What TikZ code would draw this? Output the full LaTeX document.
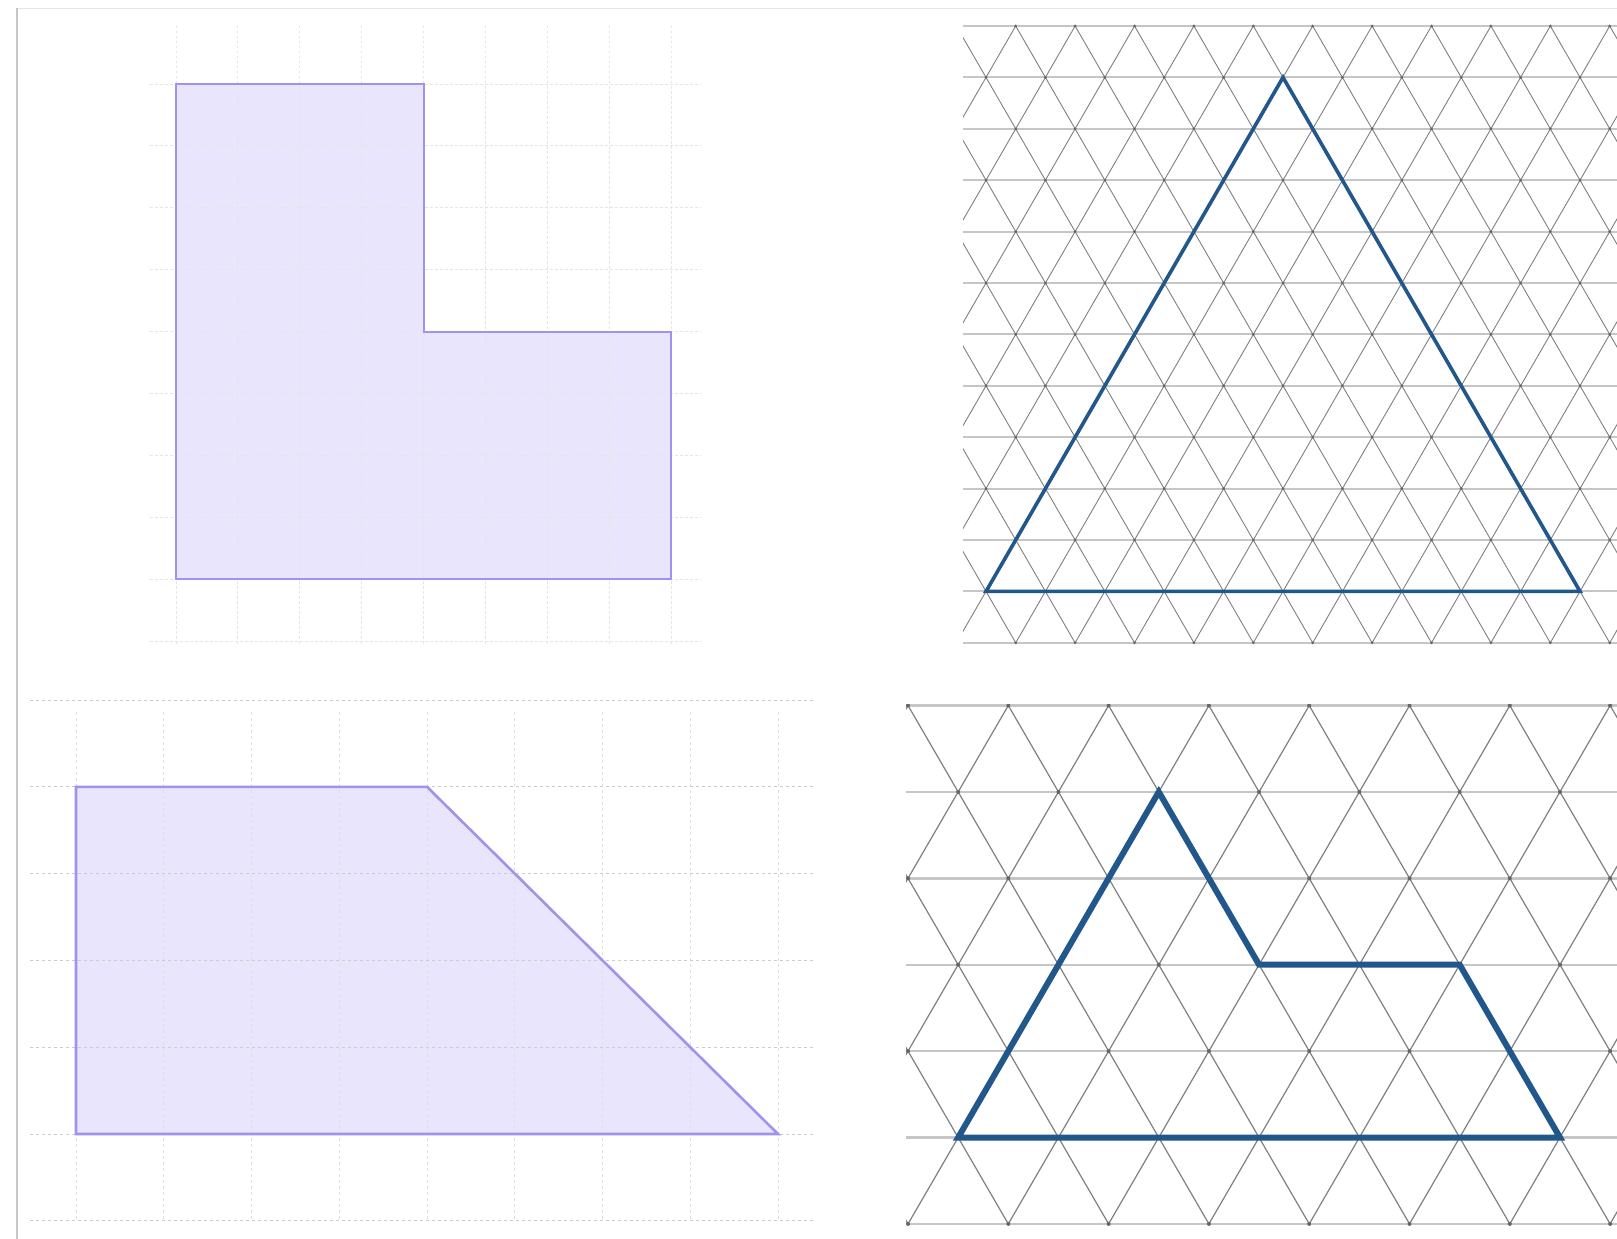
\documentclass[tikz,border=0pt]{standalone}
\definecolor{lav}{HTML}{E8E5FC}
\definecolor{lavline}{HTML}{A193EC}
\definecolor{tblue}{HTML}{21578B}
\begin{document}
\begin{tikzpicture}[x=1pt,y=-1pt,
  sqgridA/.style={gray!20,line width=0.9pt,dash pattern=on 2.5pt off 2.5pt},
  sqgridH/.style={gray!40,line width=1pt,dash pattern=on 3pt off 3pt},
  sqgridV/.style={gray!25,line width=0.9pt,dash pattern=on 3pt off 3pt},
  shapeL/.style={fill=lav,draw=lavline,line width=2pt,line join=miter},
  thoriz/.style={gray!45,line width=2pt},
  tdiag/.style={black!50,line width=0.9pt},
  tdot/.style={fill=black!60},
  bshape/.style={draw=tblue,line join=miter}]
\useasboundingbox (0,0) rectangle (1617,1239);
\fill[white] (0,0) rectangle (1617,1239);
% frame
\draw[gray!20,line width=1.2pt] (17,8.5) -- (1617,8.5);
\draw[gray!45,line width=1.6pt] (17,8) -- (17,1239);

% ---------- top-left: L shape on square grid ----------
\coordinate (L1) at (176,84);
\coordinate (L2) at (423.6,84);
\coordinate (L3) at (423.6,331.6);
\coordinate (L4) at (671.2,331.6);
\coordinate (L5) at (671.2,579.2);
\coordinate (L6) at (176,579.2);
\fill[lav] (L1) -- (L2) -- (L3) -- (L4) -- (L5) -- (L6) -- cycle;
\foreach \k in {0,...,8} \draw[sqgridA] ({176+61.9*\k},26) -- ({176+61.9*\k},645);
\foreach \k in {0,...,9} \draw[sqgridA] (150,{84+61.9*\k}) -- (701,{84+61.9*\k});
\draw[shapeL,fill=none] (L1) -- (L2) -- (L3) -- (L4) -- (L5) -- (L6) -- cycle;

% ---------- top-right: triangle on triangular grid ----------
\begin{scope}
\clip (963,25) rectangle (1617,644);
\foreach \j in {0,...,12} \draw[thoriz] (963,{26+51.4*\j}) -- (1617,{26+51.4*\j});
\foreach \k in {-6,...,18} {
  \draw[tdiag] ({956.3+59.4*\k},26) -- ({956.3+59.4*\k+356.4},642.8);
  \draw[tdiag] ({956.3+59.4*\k},26) -- ({956.3+59.4*\k-356.4},642.8);
}
\foreach \j in {0,...,12} \foreach \k in {-1,...,12}
  \fill[tdot] ({956.3+29.7*mod(\j,2)+59.4*\k},{26+51.4*\j}) circle (1.5);
\end{scope}
\coordinate (T1) at (1283,77.4);
\coordinate (T2) at (1580,591.4);
\coordinate (T3) at (986,591.4);
\draw[bshape,line width=3.6pt] (T1) -- (T2) -- (T3) -- cycle;

% ---------- bottom-left: trapezoid on square grid ----------
\coordinate (P1) at (76,786.8);
\coordinate (P2) at (427,786.8);
\coordinate (P3) at (778,1134);
\coordinate (P4) at (76,1134);
\fill[lav] (P1) -- (P2) -- (P3) -- (P4) -- cycle;
\foreach \k in {0,...,8} \draw[sqgridV] ({76+87.75*\k},712) -- ({76+87.75*\k},1221);
\foreach \k in {0,...,6} \draw[sqgridH] (30,{700+86.8*\k}) -- (813,{700+86.8*\k});
\draw[shapeL,fill=none,line width=2.6pt] (P1) -- (P2) -- (P3) -- (P4) -- cycle;

% ---------- bottom-right: shape on triangular grid ----------
\begin{scope}
\clip (906,704) rectangle (1617,1225);
\foreach \j in {0,...,6} \draw[thoriz,line width=2.4pt] (906,{705.5+86.4*\j}) -- (1617,{705.5+86.4*\j});
\foreach \k in {-4,...,11} {
  \draw[tdiag,line width=1.2pt] ({908+100.3*\k},705.5) -- ({908+100.3*\k+300.9},1223.9);
  \draw[tdiag,line width=1.2pt] ({908+100.3*\k},705.5) -- ({908+100.3*\k-300.9},1223.9);
}
\foreach \j in {0,...,6} \foreach \k in {-1,...,8}
  \fill[tdot] ({908+50.15*mod(\j,2)+100.3*\k},{705.5+86.4*\j}) circle (2);
\end{scope}
\coordinate (S1) at (1158.75,791.9);
\coordinate (S2) at (1259.05,964.7);
\coordinate (S3) at (1459.65,964.7);
\coordinate (S4) at (1559.95,1137.5);
\coordinate (S5) at (958.15,1137.5);
\draw[bshape,line width=6pt] (S1) -- (S2) -- (S3) -- (S4) -- (S5) -- cycle;
\end{tikzpicture}
\end{document}
